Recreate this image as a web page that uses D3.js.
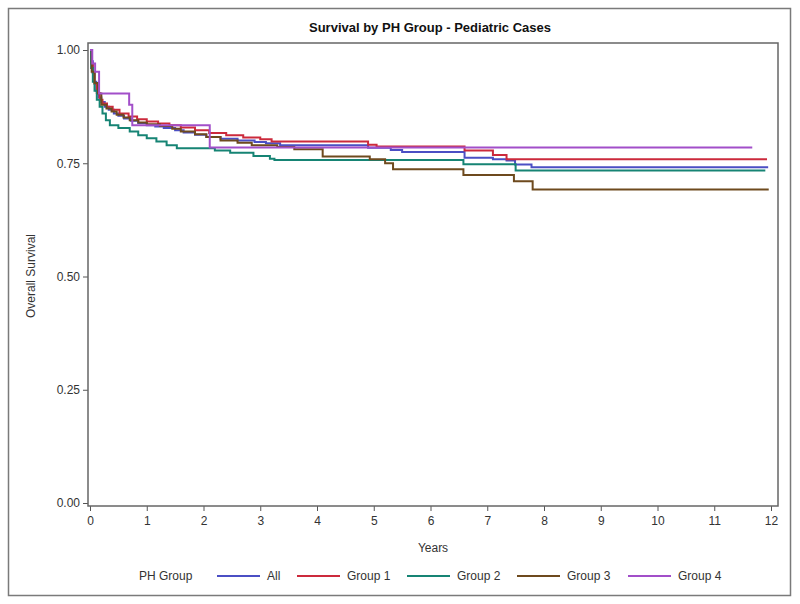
<!DOCTYPE html>
<html><head><meta charset="utf-8">
<script src="https://cdn.jsdelivr.net/npm/d3@7"></script>
<style>body{margin:0;background:#fff;} svg{display:block;} text{font-family:"Liberation Sans",Arial,sans-serif;fill:#333;}</style>
</head><body>
<svg id="c" width="800" height="604"></svg>
<script>
const title = "Survival by PH Group - Pediatric Cases";
const xLabel = "Years";
const yLabel = "Overall Survival";
const legendTitle = "PH Group";
const groups = ["All", "Group 1", "Group 2", "Group 3", "Group 4"];
const colors = ["#4b4fc4", "#cc2a3c", "#168474", "#6e4a1e", "#a24fc9"];
const xTicks = [0,1,2,3,4,5,6,7,8,9,10,11,12];
const yTicks = [0, 0.25, 0.5, 0.75, 1.0];

// [years, survival] step points
const allData = [[0,1],[0.02,0.975],[0.05,0.95],[0.08,0.93],[0.11,0.91],[0.15,0.895],[0.2,0.885],[0.26,0.875],[0.33,0.868],[0.42,0.86],[0.5,0.855],[0.6,0.849],[0.72,0.844],[0.85,0.839],[1.0,0.834],[1.15,0.831],[1.3,0.828],[1.5,0.823],[1.65,0.818],[1.85,0.813],[2.05,0.808],[2.3,0.804],[2.6,0.8],[2.9,0.797],[3.1,0.794],[3.35,0.79],[4.9,0.784],[5.3,0.779],[5.5,0.775],[6.6,0.762],[7.1,0.759],[7.34,0.756],[7.49,0.747],[7.78,0.741],[11.95,0.741]];
const group1 = [[0,1],[0.02,0.97],[0.05,0.949],[0.08,0.925],[0.12,0.905],[0.17,0.89],[0.22,0.882],[0.3,0.875],[0.4,0.868],[0.52,0.86],[0.68,0.853],[0.83,0.847],[1.0,0.842],[1.2,0.838],[1.4,0.834],[1.6,0.829],[1.85,0.823],[2.1,0.817],[2.4,0.812],[2.7,0.807],[3.0,0.803],[3.2,0.798],[4.9,0.791],[5.05,0.787],[6.6,0.778],[7.1,0.768],[7.34,0.759],[11.93,0.759]];
const group2 = [[0,1],[0.02,0.96],[0.05,0.93],[0.08,0.91],[0.12,0.89],[0.17,0.875],[0.22,0.86],[0.28,0.845],[0.35,0.834],[0.5,0.828],[0.7,0.82],[0.85,0.812],[1.0,0.805],[1.17,0.798],[1.35,0.79],[1.53,0.783],[2.2,0.778],[2.47,0.773],[2.88,0.766],[3.17,0.76],[3.25,0.757],[6.58,0.748],[7.5,0.734],[11.9,0.734]];
const group3 = [[0,1],[0.03,0.952],[0.08,0.927],[0.14,0.904],[0.2,0.879],[0.29,0.871],[0.38,0.864],[0.47,0.857],[0.59,0.851],[0.7,0.845],[0.85,0.84],[1.0,0.836],[1.23,0.832],[1.45,0.826],[1.6,0.82],[1.85,0.814],[2.05,0.808],[2.3,0.8],[2.6,0.795],[2.85,0.79],[3.3,0.786],[3.6,0.781],[4.1,0.765],[4.93,0.759],[5.2,0.75],[5.34,0.737],[6.58,0.724],[7.47,0.71],[7.8,0.692],[11.96,0.692]];
const group4 = [[0,1],[0.04,0.97],[0.09,0.952],[0.16,0.904],[0.69,0.879],[0.745,0.834],[2.11,0.785],[11.67,0.785]];
const series = [allData, group1, group2, group3, group4];

const svg = d3.select("#c");
// outer frame
svg.append("rect").attr("x",8.5).attr("y",8.5).attr("width",782).attr("height",587)
  .attr("fill","none").attr("stroke","#7a7a7a").attr("stroke-width",1.5);

const x = d3.scaleLinear().domain([0,12]).range([90,771]);
const y = d3.scaleLinear().domain([0,1]).range([503,50]);
const frame = {l:88, t:43, r:778, b:506};

svg.append("text").attr("x",430).attr("y",32).attr("text-anchor","middle")
  .style("font-size","13px").style("font-weight","bold").style("fill","#111").text(title);

// axes
const xAxis = svg.append("g").attr("transform",`translate(0,${frame.b})`)
  .call(d3.axisBottom(x).tickValues(xTicks).tickFormat(d3.format("d")).tickSize(5).tickSizeOuter(0));
const yAxis = svg.append("g").attr("transform",`translate(${frame.l},0)`)
  .call(d3.axisLeft(y).tickValues(yTicks).tickFormat(d3.format(".2f")).tickSize(5).tickSizeOuter(0));
[xAxis,yAxis].forEach(g=>{
  g.select(".domain").remove();
  g.selectAll("line").attr("stroke","#555");
  g.selectAll("text").style("font-size","12px").style("fill","#333").attr("font-family","Liberation Sans, Arial, sans-serif");
});
xAxis.selectAll("text").attr("dy","0.9em");

svg.append("text").attr("x",433).attr("y",552).attr("text-anchor","middle").style("font-size","12px").text(xLabel);
svg.append("text").attr("transform","translate(35,276) rotate(-90)").attr("text-anchor","middle").style("font-size","12px").text(yLabel);

// curves
const line = d3.line().x(d=>x(d[0])).y(d=>y(d[1])).curve(d3.curveStepAfter);
svg.append("g").selectAll("path").data(series).join("path")
  .attr("d",line).attr("fill","none").attr("stroke",(d,i)=>colors[i]).attr("stroke-width",2);

// plot frame
svg.append("rect").attr("x",frame.l).attr("y",frame.t).attr("width",frame.r-frame.l).attr("height",frame.b-frame.t)
  .attr("fill","none").attr("stroke","#666").attr("stroke-width",1.5);

// legend
const ly = 576;
svg.append("text").attr("x",139).attr("y",ly+4).style("font-size","12px").text(legendTitle);
const lx = [217, 297, 407, 517, 628];
groups.forEach((g,i)=>{
  svg.append("line").attr("x1",lx[i]).attr("x2",lx[i]+43).attr("y1",ly).attr("y2",ly)
    .attr("stroke",colors[i]).attr("stroke-width",2);
  svg.append("text").attr("x",lx[i]+50).attr("y",ly+4).style("font-size","12px").text(g);
});
</script>
</body></html>
